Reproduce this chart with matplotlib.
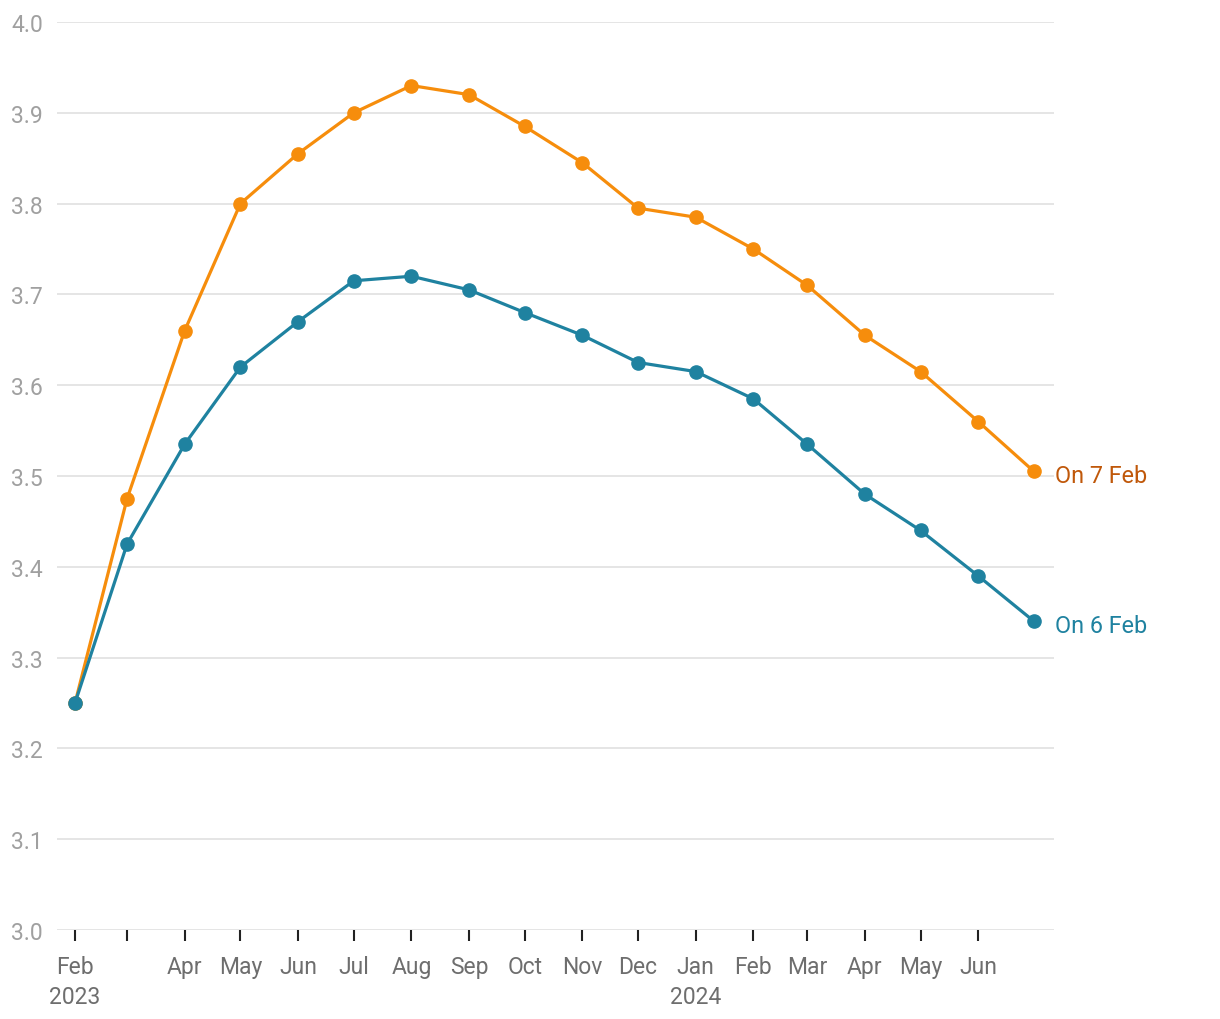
import matplotlib
matplotlib.use("Agg")
import matplotlib.pyplot as plt
import matplotlib.dates as mdates
import numpy as np
import datetime as dt

plt.rcParams["font.family"] = ["Roboto", "DejaVu Sans"]

# ─── Datos ────────────────────────────────────────────────────────────────────
meses = [dt.date(2023, 2, 1), dt.date(2023, 3, 1), dt.date(2023, 4, 1), dt.date(2023, 5, 1),
         dt.date(2023, 6, 1), dt.date(2023, 7, 1), dt.date(2023, 8, 1), dt.date(2023, 9, 1),
         dt.date(2023, 10, 1), dt.date(2023, 11, 1), dt.date(2023, 12, 1), dt.date(2024, 1, 1),
         dt.date(2024, 2, 1), dt.date(2024, 3, 1), dt.date(2024, 4, 1), dt.date(2024, 5, 1),
         dt.date(2024, 6, 1), dt.date(2024, 7, 1)]

on_7_feb = [3.25, 3.475, 3.66, 3.80, 3.855, 3.90, 3.93, 3.92, 3.885, 3.845,
            3.795, 3.785, 3.75, 3.71, 3.655, 3.615, 3.56, 3.505]
on_6_feb = [3.25, 3.425, 3.535, 3.62, 3.67, 3.715, 3.72, 3.705, 3.68, 3.655,
            3.625, 3.615, 3.585, 3.535, 3.48, 3.44, 3.39, 3.34]

tick_meses = meses[:-1]
tick_labels = ["Feb\n2023", "", "Apr", "May", "Jun", "Jul", "Aug", "Sep", "Oct", "Nov",
               "Dec", "Jan\n2024", "Feb", "Mar", "Apr", "May", "Jun"]
y_ticks = [3.0, 3.1, 3.2, 3.3, 3.4, 3.5, 3.6, 3.7, 3.8, 3.9, 4.0]

NARANJA = "#f68d0c"
NARANJA_TXT = "#c0580a"
AZUL = "#1f82a0"

# ─── Figura ───────────────────────────────────────────────────────────────────
fig = plt.figure(figsize=(12.2, 10.2), dpi=100)
ax = fig.add_axes([57 / 1220, 89 / 1020, (1054 - 57) / 1220, (930 - 22) / 1020])

x = mdates.date2num(meses)
ax.plot(x, on_7_feb, color=NARANJA, lw=2.3, marker="o", ms=9.5, zorder=3)
ax.plot(x, on_6_feb, color=AZUL, lw=2.3, marker="o", ms=9.5, zorder=4)

# etiquetas al final de cada serie (ligeramente por debajo del punto)
ax.annotate("On 7 Feb", (x[-1], on_7_feb[-1]), xytext=(15, -3), textcoords="offset points",
            color=NARANJA_TXT, fontsize=16.8, va="center", ha="left")
ax.annotate("On 6 Feb", (x[-1], on_6_feb[-1]), xytext=(15, -3), textcoords="offset points",
            color=AZUL, fontsize=16.8, va="center", ha="left")

ax.set_xlim(x[0] - 9.7, x[-1] + 10.8)
ax.set_ylim(3.0, 4.0)
ax.set_yticks(y_ticks)
ax.set_yticklabels([f"{v:.1f}" for v in y_ticks])
ax.set_xticks(mdates.date2num(tick_meses))
ax.set_xticklabels(tick_labels)

ax.grid(axis="y", color="#e3e3e3", lw=1.3)
ax.set_axisbelow(True)
for s in ax.spines.values():
    s.set_visible(False)

ax.tick_params(axis="y", length=0, pad=10, labelsize=16.5, labelcolor="#a0a0a0")
ax.tick_params(axis="x", length=8, width=1.5, color="#222222", pad=10,
               labelsize=16.5, labelcolor="#6e6e6e")
for lbl in ax.get_xticklabels():
    lbl.set_linespacing(1.4)

fig.savefig("out.png", dpi=100, facecolor="white")
